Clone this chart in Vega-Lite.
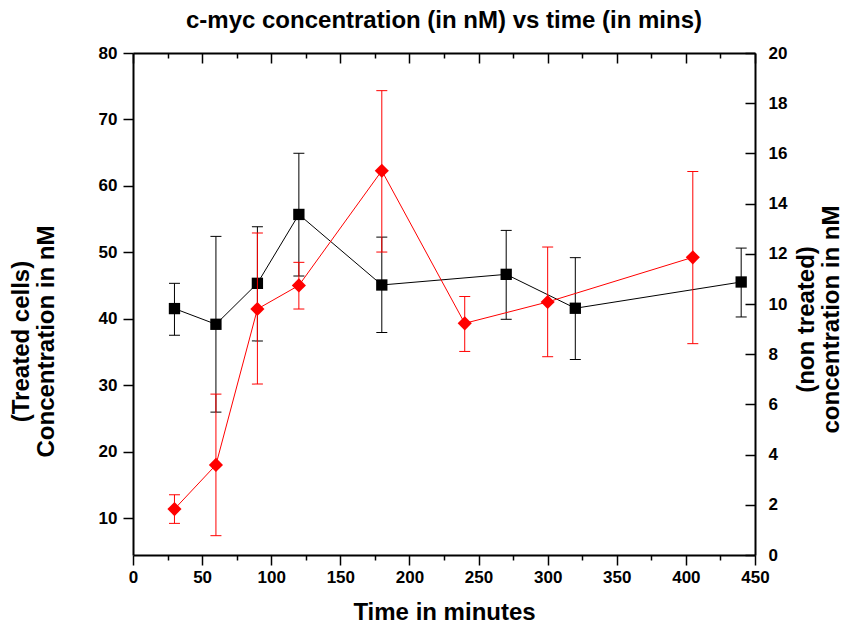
{
  "$schema": "https://vega.github.io/schema/vega-lite/v6.json",
  "autosize": "none",
  "width": 622,
  "height": 502,
  "padding": {"left": 133, "top": 53, "right": 95, "bottom": 69},
  "background": "white",
  "title": {
    "text": "c-myc concentration (in nM) vs time (in mins)",
    "fontSize": 24,
    "font": "Liberation Sans",
    "fontWeight": "bold",
    "color": "black",
    "offset": 11
  },
  "datasets": {
    "black": [
      {"t": 30, "v": 41.56, "lo": 37.55, "hi": 45.36},
      {"t": 60, "v": 39.2, "lo": 25.99, "hi": 52.42},
      {"t": 90, "v": 45.36, "lo": 36.7, "hi": 53.87},
      {"t": 120, "v": 55.72, "lo": 46.46, "hi": 64.92},
      {"t": 180, "v": 45.11, "lo": 37.96, "hi": 52.31},
      {"t": 270, "v": 46.71, "lo": 39.95, "hi": 53.32},
      {"t": 320, "v": 41.61, "lo": 33.9, "hi": 49.22},
      {"t": 440, "v": 45.56, "lo": 40.3, "hi": 50.66}
    ],
    "red": [
      {"t": 30, "v": 1.83, "lo": 1.26, "hi": 2.4},
      {"t": 60, "v": 3.59, "lo": 0.77, "hi": 6.41},
      {"t": 90, "v": 9.8, "lo": 6.81, "hi": 12.83},
      {"t": 120, "v": 10.74, "lo": 9.8, "hi": 11.66},
      {"t": 180, "v": 15.31, "lo": 12.07, "hi": 18.5},
      {"t": 240, "v": 9.23, "lo": 8.11, "hi": 10.3},
      {"t": 300, "v": 10.08, "lo": 7.9, "hi": 12.27},
      {"t": 405, "v": 11.86, "lo": 8.42, "hi": 15.28}
    ]
  },
  "config": {
    "view": {"stroke": null},
    "axis": {
      "grid": false,
      "domainColor": "black",
      "domainWidth": 2,
      "tickColor": "black",
      "tickWidth": 1.5,
      "labelColor": "black",
      "titleColor": "black",
      "labelFont": "Liberation Sans",
      "titleFont": "Liberation Sans",
      "labelFontWeight": "bold",
      "titleFontWeight": "bold",
      "labelFontSize": 17,
      "titleFontSize": 24
    }
  },
  "resolve": {"scale": {"y": "independent"}, "axis": {"x": "independent", "y": "independent"}},
  "layer": [
    {
      "data": {"name": "black"},
      "encoding": {
        "x": {
          "field": "t",
          "type": "quantitative",
          "scale": {"domain": [0, 450], "nice": false},
          "axis": {
            "orient": "bottom",
            "title": "Time in minutes",
            "values": [0,25,50,75,100,125,150,175,200,225,250,275,300,325,350,375,400,425,450],
            "labelExpr": "datum.value % 50 === 0 ? datum.label : ''",
            "tickSize": 10,
            "tickDash": {"condition": {"test": "datum.value % 50 !== 0", "value": [5, 15]}, "value": [10, 1]},
            "labelPadding": 4,
            "labelFlush": false,
            "labelOverlap": false,
            "titleY": 57,
            "titleBaseline": "middle"
          }
        }
      },
      "layer": [
        {
          "mark": {"type": "rule", "color": "black", "strokeWidth": 1},
          "encoding": {
            "y": {
              "field": "lo",
              "type": "quantitative",
              "scale": {"domain": [4.5, 80], "nice": false, "zero": false},
              "axis": {
                "orient": "left",
                "title": ["(Treated cells)", "Concentration in nM"],
                "values": [10,15,20,25,30,35,40,45,50,55,60,65,70,75,80],
                "tickSize": 10,
                "tickDash": {"condition": {"test": "datum.value % 10 !== 0", "value": [5, 15]}, "value": [10, 1]},
                "labelOpacity": {"condition": {"test": "datum.value % 10 !== 0", "value": 0}, "value": 1},
                "labelPadding": 6,
                "labelOverlap": false,
                "titleAngle": -90,
                "titleAlign": "center",
                "titleBaseline": "middle",
                "titleX": -112,
                "titleY": 288,
                "titleLineHeight": 25
              }
            },
            "y2": {"field": "hi"}
          }
        },
        {
          "mark": {"type": "tick", "orient": "horizontal", "size": 11, "thickness": 1, "color": "black", "opacity": 1},
          "encoding": {"y": {"field": "lo", "type": "quantitative", "title": ["(Treated cells)", "Concentration in nM"]}}
        },
        {
          "mark": {"type": "tick", "orient": "horizontal", "size": 11, "thickness": 1, "color": "black", "opacity": 1},
          "encoding": {"y": {"field": "hi", "type": "quantitative", "title": ["(Treated cells)", "Concentration in nM"]}}
        },
        {
          "mark": {"type": "line", "color": "black", "strokeWidth": 1},
          "encoding": {"y": {"field": "v", "type": "quantitative", "title": ["(Treated cells)", "Concentration in nM"]}}
        },
        {
          "mark": {"type": "point", "shape": "square", "filled": true, "size": 128, "color": "black", "opacity": 1},
          "encoding": {"y": {"field": "v", "type": "quantitative", "title": ["(Treated cells)", "Concentration in nM"]}}
        }
      ]
    },
    {
      "data": {"name": "red"},
      "encoding": {
        "x": {
          "field": "t",
          "type": "quantitative",
          "scale": {"domain": [0, 450], "nice": false},
          "axis": {
            "orient": "top",
            "title": null,
            "labels": false,
            "values": [0,25,50,75,100,125,150,175,200,225,250,275,300,325,350,375,400,425,450],
            "tickSize": -10,
            "tickDash": {"condition": {"test": "datum.value % 50 !== 0", "value": [5, 15]}, "value": [10, 1]}
          }
        }
      },
      "layer": [
        {
          "mark": {"type": "rule", "color": "#ff0000", "strokeWidth": 1},
          "encoding": {
            "y": {
              "field": "lo",
              "type": "quantitative",
              "scale": {"domain": [0, 20], "nice": false},
              "axis": {
                "orient": "right",
                "title": ["(non treated)", "concentration in nM"],
                "values": [0,1,2,3,4,5,6,7,8,9,10,11,12,13,14,15,16,17,18,19,20],
                "labelExpr": "datum.value % 2 === 0 ? datum.label : ''",
                "tickSize": -10,
                "tickDash": {"condition": {"test": "datum.value % 2 !== 0", "value": [5, 15]}, "value": [10, 1]},
                "labelPadding": 23,
                "labelFlush": false,
                "labelOverlap": false,
                "titleAngle": -90,
                "titleAlign": "center",
                "titleBaseline": "middle",
                "titleX": 51,
                "titleY": 266,
                "titleLineHeight": 25
              }
            },
            "y2": {"field": "hi"}
          }
        },
        {
          "mark": {"type": "tick", "orient": "horizontal", "size": 11, "thickness": 1, "color": "#ff0000", "opacity": 1},
          "encoding": {"y": {"field": "lo", "type": "quantitative", "title": ["(non treated)", "concentration in nM"]}}
        },
        {
          "mark": {"type": "tick", "orient": "horizontal", "size": 11, "thickness": 1, "color": "#ff0000", "opacity": 1},
          "encoding": {"y": {"field": "hi", "type": "quantitative", "title": ["(non treated)", "concentration in nM"]}}
        },
        {
          "mark": {"type": "line", "color": "#ff0000", "strokeWidth": 1},
          "encoding": {"y": {"field": "v", "type": "quantitative", "title": ["(non treated)", "concentration in nM"]}}
        },
        {
          "mark": {"type": "point", "shape": "diamond", "filled": true, "size": 200, "color": "#ff0000", "opacity": 1},
          "encoding": {"y": {"field": "v", "type": "quantitative", "title": ["(non treated)", "concentration in nM"]}}
        }
      ]
    }
  ]
}
